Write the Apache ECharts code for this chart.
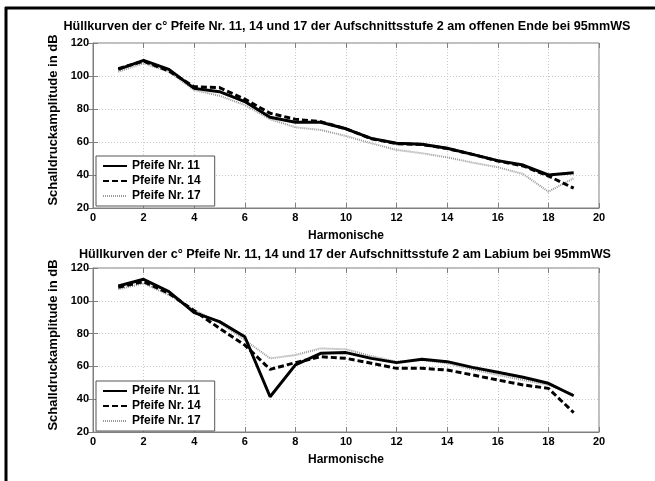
<!DOCTYPE html>
<html><head><meta charset="utf-8">
<script src="https://cdn.jsdelivr.net/npm/echarts@6/dist/echarts.min.js"></script>
<style>html,body{margin:0;padding:0;background:#fff}#c{width:655px;height:481px}</style>
</head><body><div id="c"></div>
<script>
var harmonics = [1,2,3,4,5,6,7,8,9,10,11,12,13,14,15,16,17,18,19];
var seriesNames = ['Pfeife Nr. 11','Pfeife Nr. 14','Pfeife Nr. 17'];
var titles = ['Hüllkurven der c° Pfeife Nr. 11, 14 und 17 der Aufschnittsstufe 2 am offenen Ende bei 95mmWS',
              'Hüllkurven der c° Pfeife Nr. 11, 14 und 17 der Aufschnittsstufe 2 am Labium bei 95mmWS'];
var xLabel = 'Harmonische';
var yLabel = 'Schalldruckamplitude in dB';
var xTicks = [0,2,4,6,8,10,12,14,16,18,20];
var yTicks = [20,40,60,80,100,120];
// Plot 1: offenes Ende
var top11 = [104,109.5,104,92.5,90.5,84.5,75,72,72,68,62.2,59.2,58.6,56.2,52.5,48.7,46,40,41.4];
var top14 = [104.5,109,103,93.5,93,86,77.4,73.8,72.3,68,62,59,58.5,56,52.5,48.5,45.5,39.4,32];
var top17 = [102.6,107.7,102.6,91.5,88,82.4,73.8,68.9,67.3,63.6,59.2,55.2,53.2,50.7,47.5,44.7,40.6,29.9,38];
// Plot 2: Labium
var bot11 = [109,113.1,105.6,92.8,87.3,78.1,41.5,60.9,68,68.4,64.9,62.3,64.3,62.9,59.4,56.4,53.4,49.7,42.1];
var bot14 = [108.2,111.7,104.5,94,83.2,73,58.2,62.3,65.9,64.9,61.9,58.8,58.8,57.8,54.8,51.7,48.7,46.6,31.8];
var bot17 = [107,110.6,103.5,94.4,86.7,76.1,64.9,66.9,71,70.4,66.3,62.9,63.9,61.9,58.2,54.8,51.7,48.7,43];

var FW = 'Liberation Sans, Arial, sans-serif';
function pairs(arr){ return harmonics.map(function(h,i){ return [h, arr[i]]; }); }

var styles = [
  {color:'#000', width:3, type:'solid'},
  {color:'#000', width:3, type:[6,3]},
  {color:'#9a9a9a', width:2, type:[1,1]}
];
var grids = [{left:93, top:43, width:506, height:165, show:true, borderColor:'#7f7f7f', borderWidth:1},
             {left:93, top:268, width:506, height:164, show:true, borderColor:'#7f7f7f', borderWidth:1}];
var xAxes = [], yAxes = [];
[0,1].forEach(function(g){
  xAxes.push({type:'value', gridIndex:g, min:0, max:20, interval:2, position:'bottom',
    name:xLabel, nameLocation:'middle', nameGap:22,
    nameTextStyle:{fontFamily:FW, fontWeight:'bold', fontSize:12, color:'#000'},
    axisLine:{show:true, lineStyle:{color:'#7f7f7f'}},
    axisTick:{show:true, inside:true, length:5, lineStyle:{color:'#7f7f7f'}},
    axisLabel:{fontFamily:FW, fontWeight:'bold', fontSize:11, color:'#000', margin:4},
    splitLine:{show:true, lineStyle:{color:'#c8c8c8', type:[1,2]}}});
  xAxes.push({type:'value', gridIndex:g, min:0, max:20, interval:2, position:'top',
    axisLine:{show:false}, axisTick:{show:true, inside:true, length:5, lineStyle:{color:'#7f7f7f'}},
    axisLabel:{show:false}, splitLine:{show:false}});
  yAxes.push({type:'value', gridIndex:g, min:20, max:120, interval:20, position:'left',
    axisLine:{show:true, lineStyle:{color:'#7f7f7f'}},
    axisTick:{show:true, inside:true, length:5, lineStyle:{color:'#7f7f7f'}},
    axisLabel:{fontFamily:FW, fontWeight:'bold', fontSize:11, color:'#000', margin:4},
    splitLine:{show:true, lineStyle:{color:'#c8c8c8', type:[1,2]}}});
  yAxes.push({type:'value', gridIndex:g, min:20, max:120, interval:20, position:'right',
    axisLine:{show:false}, axisTick:{show:true, inside:true, length:5, lineStyle:{color:'#7f7f7f'}},
    axisLabel:{show:false}, splitLine:{show:false}});
});
var data = [[top11,top14,top17],[bot11,bot14,bot17]];
var series = [];
[0,1].forEach(function(g){
  data[g].forEach(function(arr,k){
    series.push({type:'line', name:seriesNames[k], xAxisIndex:g*2, yAxisIndex:g*2,
      data:pairs(arr), showSymbol:false, symbol:'none', z:10-k,
      lineStyle:{color:styles[k].color, width:styles[k].width, type:styles[k].type},
      itemStyle:{color:styles[k].color}, animation:false});
  });
});
function legend(top){
  return {orient:'vertical', left:96, top:top, data:seriesNames, itemWidth:24, itemHeight:10, itemGap:3,
    padding:[4,14,4,6], borderColor:'#555', borderWidth:1, backgroundColor:'#fff',
    itemStyle:{color:'transparent', borderWidth:0, opacity:0},
    selectedMode:false, textStyle:{fontFamily:FW, fontWeight:'bold', fontSize:12, color:'#000'}};
}
function txt(t, x, y, size, rot){
  return {type:'text', x:x, y:y, rotation:rot||0, z:50,
    style:{text:t, fill:'#000', font:'bold '+size+'px '+FW, textAlign:'center', textVerticalAlign:'middle'}};
}
var chart = echarts.init(document.getElementById('c'), null, {renderer:'canvas'});
chart.setOption({
  animation:false,
  backgroundColor:'#fff',
  grid:grids, xAxis:xAxes, yAxis:yAxes, series:series,
  legend:[legend(156), legend(381)],
  graphic:[
    {type:'line', shape:{x1:6, y1:7, x2:6, y2:481}, style:{stroke:'#000', lineWidth:3}},
    {type:'line', shape:{x1:5, y1:8, x2:655, y2:8}, style:{stroke:'#000', lineWidth:3}},
    txt(titles[0], 347, 27, 12.6),
    txt(titles[1], 345, 255, 12.6),
    txt(yLabel, 53, 120, 13, Math.PI/2),
    txt(yLabel, 53, 345, 13, Math.PI/2)
  ]
});
</script></body></html>
